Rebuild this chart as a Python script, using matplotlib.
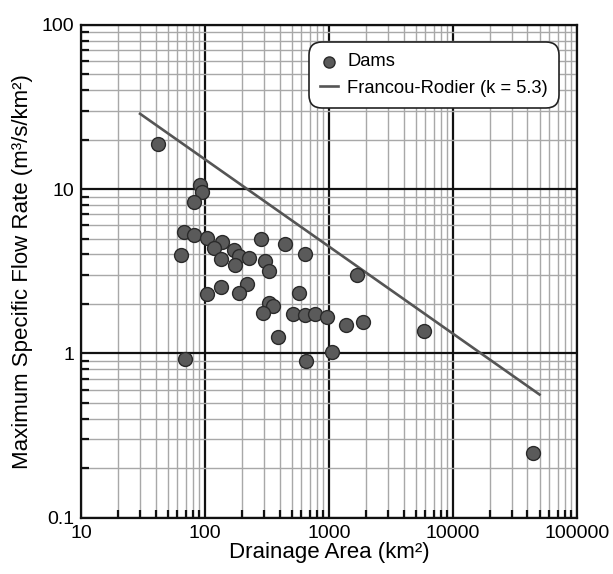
import matplotlib
matplotlib.use("Agg")
import matplotlib.pyplot as plt
from matplotlib.ticker import LogLocator, NullFormatter, FixedLocator, FixedFormatter

plt.rcParams["font.family"] = ["Liberation Sans", "DejaVu Sans"]

# Dams: drainage area (km2) and maximum specific flow rate (m3/s/km2)
dam_area = [41.5, 90.6, 94.6, 81.1, 67.8, 81.5, 103.8, 64.3, 136.4, 117.5,
            171.3, 187, 133.8, 228, 174.6, 285, 442, 637, 307, 328,
            133.8, 218, 103.8, 188, 573, 328, 356, 294, 513, 637,
            771, 970, 1381, 386, 68.6, 649, 1058, 1682, 1870, 5802, 44170]
dam_flow = [18.9, 10.57, 9.55, 8.30, 5.48, 5.23, 5.05, 3.97, 4.74, 4.35,
            4.25, 3.89, 3.75, 3.79, 3.46, 4.94, 4.63, 4.02, 3.65, 3.17,
            2.53, 2.65, 2.31, 2.34, 2.34, 2.02, 1.94, 1.77, 1.73, 1.72,
            1.73, 1.66, 1.48, 1.26, 0.927, 0.898, 1.02, 3.01, 1.56, 1.37, 0.246]

# Francou-Rodier envelope (k = 5.3), end points
fr_area = [30, 50000]
fr_flow = [28.7, 0.562]

x_ticks = [10, 100, 1000, 10000, 100000]
x_labels = ["10", "100", "1000", "10000", "100000"]
y_ticks = [0.1, 1, 10, 100]
y_labels = ["0.1", "1", "10", "100"]

fig = plt.figure(figsize=(6.13, 5.74), dpi=100)
ax = fig.add_axes([0.132, 0.098, 0.809, 0.859])

ax.set_xscale("log")
ax.set_yscale("log")
ax.set_xlim(10, 100000)
ax.set_ylim(0.1, 100)

# grid
ax.xaxis.set_major_locator(FixedLocator(x_ticks))
ax.xaxis.set_major_formatter(FixedFormatter(x_labels))
ax.yaxis.set_major_locator(FixedLocator(y_ticks))
ax.yaxis.set_major_formatter(FixedFormatter(y_labels))
ax.xaxis.set_minor_locator(LogLocator(base=10, subs=range(2, 10), numticks=20))
ax.yaxis.set_minor_locator(LogLocator(base=10, subs=range(2, 10), numticks=20))
ax.xaxis.set_minor_formatter(NullFormatter())
ax.yaxis.set_minor_formatter(NullFormatter())
ax.grid(True, which="minor", color="#a8a8a8", linewidth=1.0)
ax.grid(True, which="major", color="#111111", linewidth=1.6)
ax.set_axisbelow(True)

ax.tick_params(which="both", direction="in", top=False, right=False,
               labelsize=14, color="#111111")
ax.tick_params(which="major", length=0, pad=5)
ax.tick_params(which="minor", length=6, width=1.6)

for side in ["left", "bottom", "top", "right"]:
    ax.spines[side].set_linewidth(1.6)
    ax.spines[side].set_color("#111111")

ax.plot(fr_area, fr_flow, color="#555555", linewidth=1.9,
        label="Francou-Rodier (k = 5.3)", zorder=3)
ax.scatter(dam_area, dam_flow, s=100, color="#5a5a5a", edgecolors="#2a2a2a",
           linewidths=1.0, label="Dams", zorder=4)

handles, labels = ax.get_legend_handles_labels()
leg = ax.legend(handles[::-1], labels[::-1], loc="upper right",
                bbox_to_anchor=(0.964, 0.964), borderaxespad=0, fontsize=13.2,
                frameon=True, fancybox=True, framealpha=1, edgecolor="#222222",
                handlelength=1.0, handletextpad=0.5, borderpad=0.6,
                labelspacing=0.5, markerscale=0.8)
leg.get_frame().set_linewidth(1.2)
leg.get_frame().set_boxstyle("round,pad=0,rounding_size=0.7")

ax.set_xlabel("Drainage Area (km²)", fontsize=16, labelpad=0)
ax.set_ylabel("Maximum Specific Flow Rate (m³/s/km²)", fontsize=16, labelpad=6)

fig.savefig("out.png", dpi=100)
